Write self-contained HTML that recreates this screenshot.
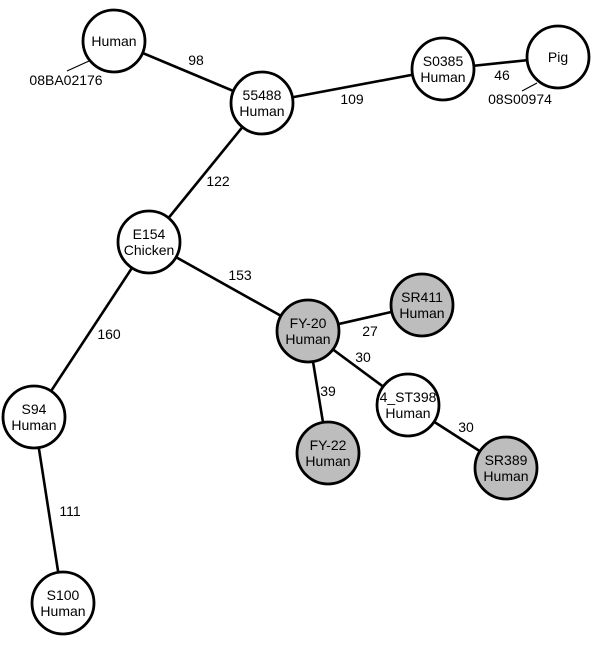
<!DOCTYPE html>
<html><head><style>html,body{margin:0;padding:0;background:#fff}svg{display:block}</style></head>
<body>
<svg width="600" height="654" viewBox="0 0 600 654" xmlns="http://www.w3.org/2000/svg" font-family="'Liberation Sans', sans-serif" font-size="14" fill="#000">
<g stroke="#000" stroke-width="2.6">
<line x1="114" y1="41" x2="262" y2="103"/>
<line x1="262" y1="103" x2="443" y2="69"/>
<line x1="443" y1="69" x2="558" y2="57"/>
<line x1="262" y1="103" x2="149" y2="242"/>
<line x1="149" y1="242" x2="308" y2="331"/>
<line x1="149" y1="242" x2="34" y2="417"/>
<line x1="34" y1="417" x2="63" y2="603"/>
<line x1="308" y1="331" x2="422" y2="305"/>
<line x1="308" y1="331" x2="408" y2="405"/>
<line x1="308" y1="331" x2="328" y2="453"/>
<line x1="408" y1="405" x2="506" y2="468"/>
</g>
<g stroke="#000" stroke-width="1.2">
<line x1="67" y1="71" x2="89" y2="61"/>
<line x1="522" y1="91" x2="537" y2="83"/>
</g>
<g stroke="#000" stroke-width="2.8">
<circle cx="114" cy="41" r="31" fill="#fff"/>
<circle cx="262" cy="103" r="31" fill="#fff"/>
<circle cx="443" cy="69" r="31" fill="#fff"/>
<circle cx="558" cy="57" r="31" fill="#fff"/>
<circle cx="149" cy="242" r="31" fill="#fff"/>
<circle cx="34" cy="417" r="31" fill="#fff"/>
<circle cx="63" cy="603" r="31" fill="#fff"/>
<circle cx="308" cy="331" r="31" fill="#bdbdbd"/>
<circle cx="422" cy="305" r="31" fill="#bdbdbd"/>
<circle cx="408" cy="405" r="31" fill="#fff"/>
<circle cx="328" cy="453" r="31" fill="#bdbdbd"/>
<circle cx="506" cy="468" r="31" fill="#bdbdbd"/>
</g>
<g text-anchor="middle">
<text x="114" y="46">Human</text>
<text x="262" y="100">55488</text><text x="262" y="116">Human</text>
<text x="443" y="66">S0385</text><text x="443" y="82">Human</text>
<text x="558" y="62">Pig</text>
<text x="149" y="239">E154</text><text x="149" y="255">Chicken</text>
<text x="34" y="414">S94</text><text x="34" y="430">Human</text>
<text x="63" y="600">S100</text><text x="63" y="616">Human</text>
<text x="308" y="328">FY-20</text><text x="308" y="344">Human</text>
<text x="422" y="302">SR411</text><text x="422" y="318">Human</text>
<text x="408" y="402">4_ST398</text><text x="408" y="418">Human</text>
<text x="328" y="450">FY-22</text><text x="328" y="466">Human</text>
<text x="506" y="465">SR389</text><text x="506" y="481">Human</text>
<text x="66" y="85">08BA02176</text>
<text x="520" y="104">08S00974</text>
<text x="196" y="65">98</text>
<text x="352" y="104">109</text>
<text x="502" y="80">46</text>
<text x="218" y="186">122</text>
<text x="240" y="280">153</text>
<text x="109" y="339">160</text>
<text x="70" y="516">111</text>
<text x="370" y="336">27</text>
<text x="363" y="362">30</text>
<text x="328" y="396">39</text>
<text x="466" y="432">30</text>
</g>
</svg>
</body></html>
